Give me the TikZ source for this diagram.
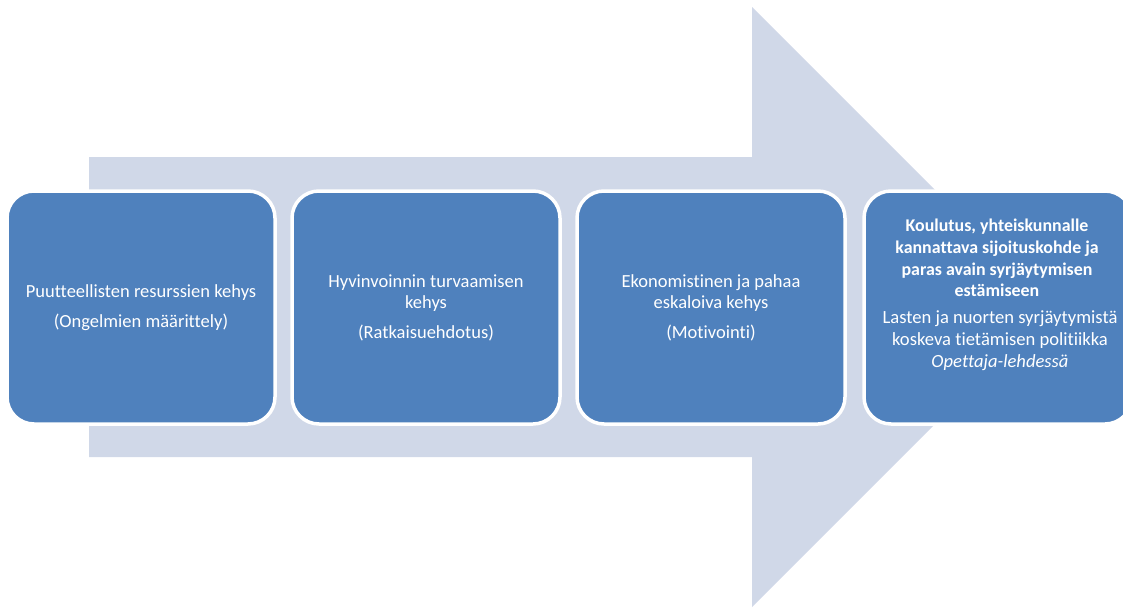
\documentclass[tikz,border=0pt]{standalone}
\usepackage{fontspec}
\setmainfont{Carlito}[Ligatures=NoCommon]
\definecolor{arrowfill}{HTML}{D0D8E8}
\definecolor{boxfill}{HTML}{4F81BD}
\begin{document}
\begin{tikzpicture}[x=1pt,y=-1pt,
  stage/.style={draw=white, line width=3.5pt, fill=boxfill, rounded corners=27pt,
    minimum width=268pt, minimum height=233pt, text=white, align=center,
    font=\fontsize{18.5}{21.5}\selectfont},
  label/.style={text=white, align=center, font=\fontsize{18.6}{22}\selectfont, inner sep=0pt},
  boldlabel/.style={text=white, align=center, font=\fontsize{17.9}{21.7}\selectfont\bfseries, inner sep=0pt}]
\useasboundingbox (0,0) rectangle (1123,608);
\clip (0,0) rectangle (1123,608);
\fill[arrowfill] (89,157) -- (752,157) -- (752,7) -- (1052,307) -- (752,607) -- (752,457) -- (89,457) -- cycle;
\node[stage] (b1) at (141,307.5) {Puutteellisten resurssien kehys\\[8pt](Ongelmien määrittely)};
\node[stage] (b2) at (426,307.5) {Hyvinvoinnin turvaamisen\\kehys\\[8pt](Ratkaisuehdotus)};
\node[stage] (b3) at (711,307.5) {Ekonomistinen ja pahaa\\eskaloiva kehys\\[8pt](Motivointi)};
\node[stage] (b4) at (998,307.5) {};
\node[boldlabel] (t4a) at (997,258) {Koulutus, yhteiskunnalle\\kannattava sijoituskohde ja\\paras avain syrjäytymisen\\estämiseen};
\node[label] (t4b) at (1000,341) {Lasten ja nuorten syrjäytymistä\\koskeva tietämisen politiikka\\\textit{Opettaja-lehdessä}};
\end{tikzpicture}
\end{document}
